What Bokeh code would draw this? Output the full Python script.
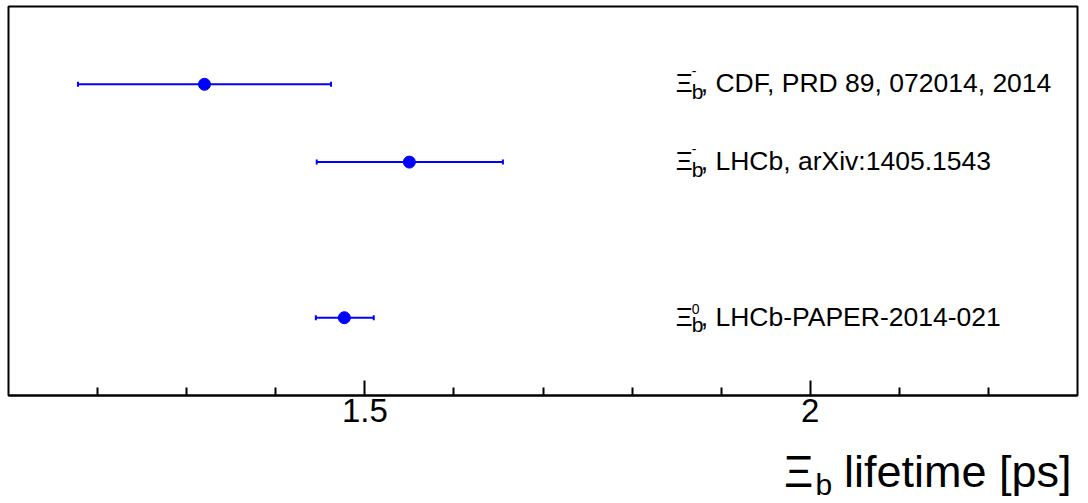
from bokeh.plotting import figure
from bokeh.models import Whisker, ColumnDataSource, Label, FixedTicker, Range1d, TeeHead
from bokeh.layouts import column
from bokeh.embed import file_html
from bokeh.resources import INLINE

# ---- data ----
sup_charges = ["-", "-", "0"]
measurements = [", CDF, PRD 89, 072014, 2014",
                ", LHCb, arXiv:1405.1543",
                ", LHCb-PAPER-2014-021"]
lifetimes = [1.32, 1.55, 1.477]
err_low = [0.142, 0.104, 0.032]
err_high = [0.142, 0.105, 0.033]
rows = [4, 3, 1]
x_major_ticks = [1.5, 2.0]
x_tick_labels = ["1.5", "2"]
x_minor_ticks = [1.2, 1.3, 1.4, 1.6, 1.7, 1.8, 1.9, 2.1, 2.2]
x_lo, x_hi = 1.1, 2.3
y_lo, y_hi = 0, 5

FONT = "Liberation Sans"
BLUE = "#0000ff"
W = 1085

src = ColumnDataSource(dict(
    x=lifetimes, y=rows,
    lo=[v - e for v, e in zip(lifetimes, err_low)],
    hi=[v + e for v, e in zip(lifetimes, err_high)],
))

p = figure(width=W, height=440, x_range=Range1d(x_lo, x_hi), y_range=Range1d(y_lo, y_hi),
           output_backend="svg", toolbar_location=None, y_axis_location=None,
           min_border_left=8, min_border_right=8, min_border_top=6, min_border_bottom=45)
p.grid.visible = False
p.outline_line_color = "black"
p.outline_line_width = 2
p.background_fill_color = "white"
p.border_fill_color = "white"

ax = p.xaxis[0]
ax.ticker = FixedTicker(ticks=x_major_ticks, minor_ticks=x_minor_ticks)
ax.major_label_overrides = {t: l for t, l in zip(x_major_ticks, x_tick_labels)}
ax.axis_line_width = 2
ax.axis_line_color = "black"
ax.major_tick_in = 15
ax.major_tick_out = 0
ax.minor_tick_in = 8
ax.minor_tick_out = 0
ax.major_tick_line_width = 2
ax.minor_tick_line_width = 2
ax.major_label_text_font = FONT
ax.major_label_text_font_size = "33px"
ax.major_label_text_color = "black"
ax.major_label_standoff = 3

whisk = Whisker(source=src, base="y", lower="lo", upper="hi", dimension="width",
                line_color=BLUE, line_width=2,
                upper_head=TeeHead(size=5, line_color=BLUE, line_width=2),
                lower_head=TeeHead(size=5, line_color=BLUE, line_width=2))
p.add_layout(whisk)
p.scatter("x", "y", source=src, size=12, color=BLUE)

# measurement labels
tx = 1.849
for sup, txt, r in zip(sup_charges, measurements, rows):
    p.add_layout(Label(x=tx, y=r, text="Ξ", text_font=FONT, text_font_size="26px",
                       text_color="black", text_baseline="middle", y_offset=1))
    p.add_layout(Label(x=tx, y=r, text="b", text_font=FONT, text_font_size="21px",
                       text_color="black", text_baseline="middle", x_offset=16, y_offset=-7))
    p.add_layout(Label(x=tx, y=r, text=sup, text_font=FONT, text_font_size="14px",
                       text_color="black", text_baseline="middle", x_offset=16,
                       y_offset=13 if sup == "-" else 9))
    p.add_layout(Label(x=tx, y=r, text=txt, text_font=FONT, text_font_size="26.5px",
                       text_color="black", text_baseline="middle", x_offset=25, y_offset=1))

# axis title, in a strip below the plot (pixel coordinates)
H2 = 62
t = figure(width=W, height=H2, x_range=Range1d(0, W), y_range=Range1d(0, H2),
           output_backend="svg", toolbar_location=None, x_axis_location=None,
           y_axis_location=None, min_border=0)
t.grid.visible = False
t.outline_line_color = None
t.add_layout(Label(x=1079, y=31, text="lifetime [ps]", text_font=FONT, text_font_size="45px",
                   text_color="black", text_align="right", text_baseline="middle"))
t.add_layout(Label(x=787, y=31, text="Ξ", text_font=FONT, text_font_size="45px",
                   text_color="black", text_align="left", text_baseline="middle"))
t.add_layout(Label(x=819, y=18, text="b", text_font=FONT, text_font_size="30px",
                   text_color="black", text_align="left", text_baseline="middle"))

open("out.html", "w").write(file_html(column(p, t, spacing=0), INLINE))
